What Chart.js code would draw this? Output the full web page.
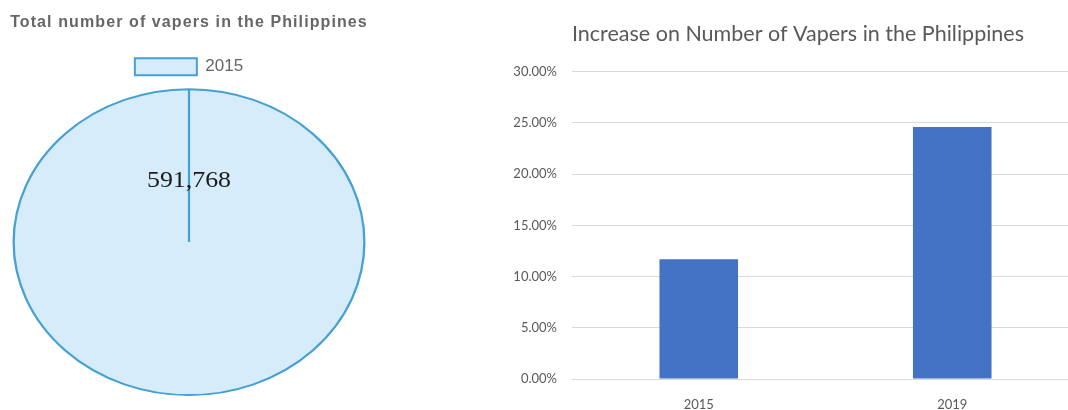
<!DOCTYPE html>
<html>
<head>
<meta charset="utf-8">
<script src="https://cdn.jsdelivr.net/npm/chart.js@4"></script>
<style>
  html, body { margin: 0; padding: 0; background: #fff; overflow: hidden; width: 1068px; height: 410px; }
  #leftBox { position: absolute; left: 0; top: 0; }
  #rightBox { position: absolute; left: 500px; top: 0; }
</style>
</head>
<body>
<div id="leftBox"><canvas id="pieChart" width="378" height="410"></canvas></div>
<div id="rightBox"><canvas id="barChart" width="596" height="410"></canvas></div>
<script>
// left: total vapers (single slice)
const pieLabels = ['2015'];
const pieValues = [591768];
const pieValueText = '591,768';

// right: increase in vapers, percent
const barLabels = ['2015', '2019'];
const barValues = [11.7, 24.6];
const barTicks = [0, 5, 10, 15, 20, 25, 30];

const pieBlue = '#45a0d3';
const pieFill = 'rgba(54, 162, 235, 0.2)';
const greyText = '#595959';

// squashes the round pie into the wide oval of the original and writes the total
const ovalPie = {
  id: 'ovalPie',
  beforeDatasetsDraw(chart, args, opts) {
    const arc = chart.getDatasetMeta(0).data[0];
    const ctx = chart.ctx;
    ctx.save();
    ctx.translate(arc.x, arc.y);
    ctx.scale(opts.sx, opts.sy);
    ctx.translate(-arc.x, -arc.y);
  },
  afterDatasetsDraw(chart, args, opts) {
    const arc = chart.getDatasetMeta(0).data[0];
    const ctx = chart.ctx;
    ctx.font = '23px "Liberation Serif", "DejaVu Serif", serif';
    ctx.fillStyle = '#1a1a1a';
    ctx.textAlign = 'center';
    ctx.textBaseline = 'middle';
    ctx.fillText(pieValueText, arc.x, arc.y - arc.outerRadius * 0.4);
    ctx.restore();
  }
};

const pie = new Chart(document.getElementById('pieChart'), {
  type: 'pie',
  data: {
    labels: pieLabels,
    datasets: [{
      data: pieValues,
      backgroundColor: pieFill,
      borderColor: pieBlue,
      borderWidth: 2
    }]
  },
  options: {
    responsive: false,
    animation: false,
    layout: { padding: { top: 0, bottom: 11, left: 0, right: 0 } },
    plugins: {
      title: {
        display: true,
        text: 'Total number of vapers in the Philippines',
        color: '#666',
        font: { family: '"Liberation Sans", Arial, sans-serif', size: 16, weight: 'bold' },
        padding: { top: 13, bottom: 16 }
      },
      legend: {
        display: true,
        labels: {
          boxWidth: 62,
          boxHeight: 17,
          color: '#666',
          font: { family: '"Liberation Sans", Arial, sans-serif', size: 17 }
        }
      },
      tooltip: { enabled: false },
      ovalPie: { sx: 1.125, sy: 0.981 }
    }
  },
  plugins: [ovalPie]
});

// the original title is drawn wide; spread its letters a bit
const tb = pie.titleBlock;
const drawTitle = tb.draw.bind(tb);
tb.draw = () => {
  pie.ctx.save();
  pie.ctx.letterSpacing = '1.1px';
  drawTitle();
  pie.ctx.restore();
};
pie.draw();

// title in the original sits a little right of the canvas centre
const titleShift = {
  id: 'titleShift',
  afterLayout(chart, args, opts) {
    chart.titleBlock.left += opts.by;
  }
};

new Chart(document.getElementById('barChart'), {
  type: 'bar',
  data: {
    labels: barLabels,
    datasets: [{
      label: 'Increase',
      data: barValues,
      backgroundColor: '#4472c4',
      borderWidth: 0,
      categoryPercentage: 1,
      barPercentage: 0.31
    }]
  },
  options: {
    responsive: false,
    animation: false,
    layout: { padding: { top: 0, right: 17, bottom: 0, left: 0 } },
    plugins: {
      legend: { display: false },
      tooltip: { enabled: false },
      title: {
        display: true,
        text: 'Increase on Number of Vapers in the Philippines',
        color: greyText,
        font: { family: 'Lato, sans-serif', size: 21.5, weight: 'normal' },
        padding: { top: 21, bottom: 25 }
      },
      titleShift: { by: 17 }
    },
    scales: {
      y: {
        min: barTicks[0],
        max: barTicks[barTicks.length - 1],
        afterFit: (s) => { s.width = 72; },
        afterBuildTicks: (s) => { s.ticks = barTicks.map(v => ({ value: v })); },
        border: { display: false },
        grid: { color: '#d9d9d9', drawTicks: false, lineWidth: 1 },
        ticks: {
          padding: 15,
          color: greyText,
          font: { family: 'Lato, sans-serif', size: 13 },
          callback: (v) => v.toFixed(2) + '%'
        }
      },
      x: {
        afterFit: (s) => { s.height = 31; },
        border: { display: false },
        grid: { display: false },
        ticks: {
          padding: 10,
          color: greyText,
          font: { family: 'Lato, sans-serif', size: 13 }
        }
      }
    }
  },
  plugins: [titleShift]
});
</script>
</body>
</html>
